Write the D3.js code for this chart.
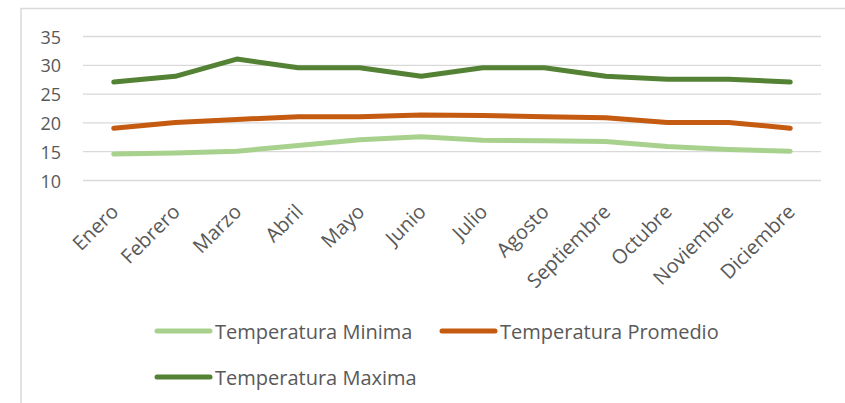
<!DOCTYPE html>
<html>
<head>
<meta charset="utf-8">
<script src="https://cdnjs.cloudflare.com/ajax/libs/d3/7.8.5/d3.min.js"></script>
<style>
  body { margin: 0; background: #fff; }
  text { font-family: "Open Sans", sans-serif; fill: #595959; }
  .grid line { stroke: #d9d9d9; stroke-width: 1.3; }
  .serie { fill: none; stroke-width: 5; stroke-linecap: round; stroke-linejoin: round; }
</style>
</head>
<body>
<script>
  var meses = ["Enero","Febrero","Marzo","Abril","Mayo","Junio","Julio","Agosto","Septiembre","Octubre","Noviembre","Diciembre"]
  var tempMinima   = [14.5, 14.7, 15, 16, 17, 17.5, 16.9, 16.8, 16.7, 15.8, 15.3, 15]
  var tempPromedio = [19, 20, 20.5, 21, 21, 21.3, 21.2, 21, 20.8, 20, 20, 19]
  var tempMaxima   = [27, 28, 31, 29.5, 29.5, 28, 29.5, 29.5, 28, 27.5, 27.5, 27]
  var yTicks = [10, 15, 20, 25, 30, 35]

  var series = [
    {name: "Temperatura Minima",   values: tempMinima,   color: "#a9d18e"},
    {name: "Temperatura Promedio", values: tempPromedio, color: "#c55a11"},
    {name: "Temperatura Maxima",   values: tempMaxima,   color: "#548235"}
  ]

  var W = 845, H = 403
  var svg = d3.select("body").append("svg")
    .attr("width", W)
    .attr("height", H)

  // chart border (only left and top visible)
  svg.append("path")
    .attr("d", "M21,403V8.5H845")
    .attr("fill", "none")
    .attr("stroke", "#d9d9d9")
    .attr("stroke-width", 1.5)

  var x = d3.scaleBand().domain(meses).range([83, 821])
  var y = d3.scaleLinear().domain([10, 35]).range([180, 36])
  var cx = function(m) { return x(m) + x.bandwidth() / 2 }

  var gy = svg.append("g")
    .attr("class", "grid")
    .attr("transform", "translate(83,0)")
    .call(d3.axisLeft(y).tickValues(yTicks).tickSize(-(821 - 83)).tickPadding(22))
  gy.select(".domain").remove()
  gy.selectAll("text")
    .attr("font-size", 18)
    .attr("dy", "0.39em")

  var gx = svg.append("g")
    .attr("transform", "translate(0,180)")
    .call(d3.axisBottom(x).tickSize(0))
  gx.select(".domain").remove()
  gx.selectAll("text")
    .attr("font-size", 20)
    .attr("text-anchor", "end")
    .attr("y", 0)
    .attr("dy", 0)
    .attr("transform", "translate(6,33) rotate(-45)")

  var line = d3.line()
    .x(function(d, i) { return cx(meses[i]) })
    .y(function(d) { return y(d) })

  svg.selectAll(".serie")
    .data(series.slice().reverse())
    .enter()
    .append("path")
    .attr("class", "serie")
    .attr("stroke", function(d) { return d.color })
    .attr("d", function(d) { return line(d.values) })

  // legend
  var legendPos = [
    {x: 157, y: 331},
    {x: 442, y: 331},
    {x: 157, y: 377}
  ]
  var lg = svg.selectAll(".leg")
    .data(series)
    .enter()
    .append("g")
    .attr("class", "leg")
    .attr("transform", function(d, i) { return "translate(" + legendPos[i].x + "," + legendPos[i].y + ")" })
  lg.append("line")
    .attr("x1", 0).attr("x2", 53)
    .attr("stroke", function(d) { return d.color })
    .attr("stroke-width", 5)
    .attr("stroke-linecap", "round")
  lg.append("text")
    .attr("x", 58)
    .attr("y", 8)
    .attr("font-size", 20)
    .text(function(d) { return d.name })
</script>
</body>
</html>
